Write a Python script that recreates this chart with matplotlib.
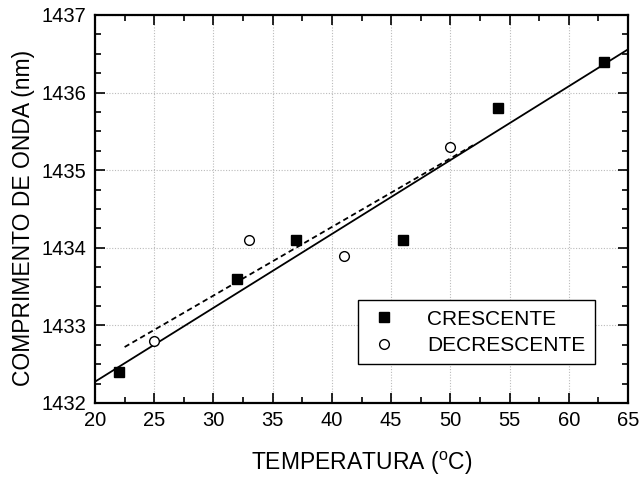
import numpy as np
import matplotlib
matplotlib.use("Agg")
import matplotlib.pyplot as plt
from matplotlib.ticker import MultipleLocator

plt.rcParams['font.family'] = ['Liberation Sans', 'DejaVu Sans']

cres_x = [22, 32, 37, 46, 54, 63]
cres_y = [1432.4, 1433.6, 1434.1, 1434.1, 1435.8, 1436.4]
dec_x = [25, 33, 41, 50]
dec_y = [1432.8, 1434.1, 1433.9, 1435.3]
xlim = (20, 65)
ylim = (1432, 1437)
dec_fit_range = (22.5, 52)

fig = plt.figure(figsize=(6.41, 4.79), dpi=100)
ax = fig.add_axes([95/641, 1-403/479, 533/641, 388/479])

# linear fits
p1 = np.polyfit(cres_x, cres_y, 1)
xs1 = np.array([xlim[0], xlim[1]])
ax.plot(xs1, np.polyval(p1, xs1), color='black', lw=1.3, zorder=2)
p2 = np.polyfit(dec_x, dec_y, 1)
xs2 = np.array(dec_fit_range)
ax.plot(xs2, np.polyval(p2, xs2), color='black', lw=1.3, ls=(0, (3, 2)), zorder=2)

ax.plot(cres_x, cres_y, 's', color='black', ms=6.5, label='CRESCENTE', zorder=3)
ax.plot(dec_x, dec_y, 'o', mfc='white', mec='black', mew=1.0, ms=7, label='DECRESCENTE', zorder=3)

ax.set_xlim(*xlim)
ax.set_ylim(*ylim)
ax.xaxis.set_major_locator(MultipleLocator(5))
ax.xaxis.set_minor_locator(MultipleLocator(2.5))
ax.yaxis.set_major_locator(MultipleLocator(1))
ax.yaxis.set_minor_locator(MultipleLocator(0.25))
ax.yaxis.set_major_formatter(matplotlib.ticker.FormatStrFormatter('%d'))
ax.grid(True, which='major', color='#bbbbbb', ls=(0, (1, 1.5)), lw=0.8)
ax.tick_params(which='both', direction='in', top=True, right=True, labelsize=14.5, width=1.2, pad=6)
ax.tick_params(which='major', length=7)
ax.tick_params(which='minor', length=4)
for s in ax.spines.values():
    s.set_linewidth(1.6)

ax.set_xlabel('TEMPERATURA ($\\mathregular{^{o}}$C)', fontsize=16.5, labelpad=14)
ax.set_ylabel('COMPRIMENTO DE ONDA (nm)', fontsize=16.5)
ax.yaxis.set_label_coords(-0.112, 0.477)

leg = ax.legend(loc='lower right', bbox_to_anchor=(0.938, 0.10), fontsize=15,
                fancybox=False, edgecolor='black', framealpha=1, handletextpad=1.3,
                borderpad=0.45, labelspacing=0.35, handlelength=1.6, borderaxespad=0)
leg.get_frame().set_linewidth(1.0)

fig.savefig('out.png', dpi=100)
